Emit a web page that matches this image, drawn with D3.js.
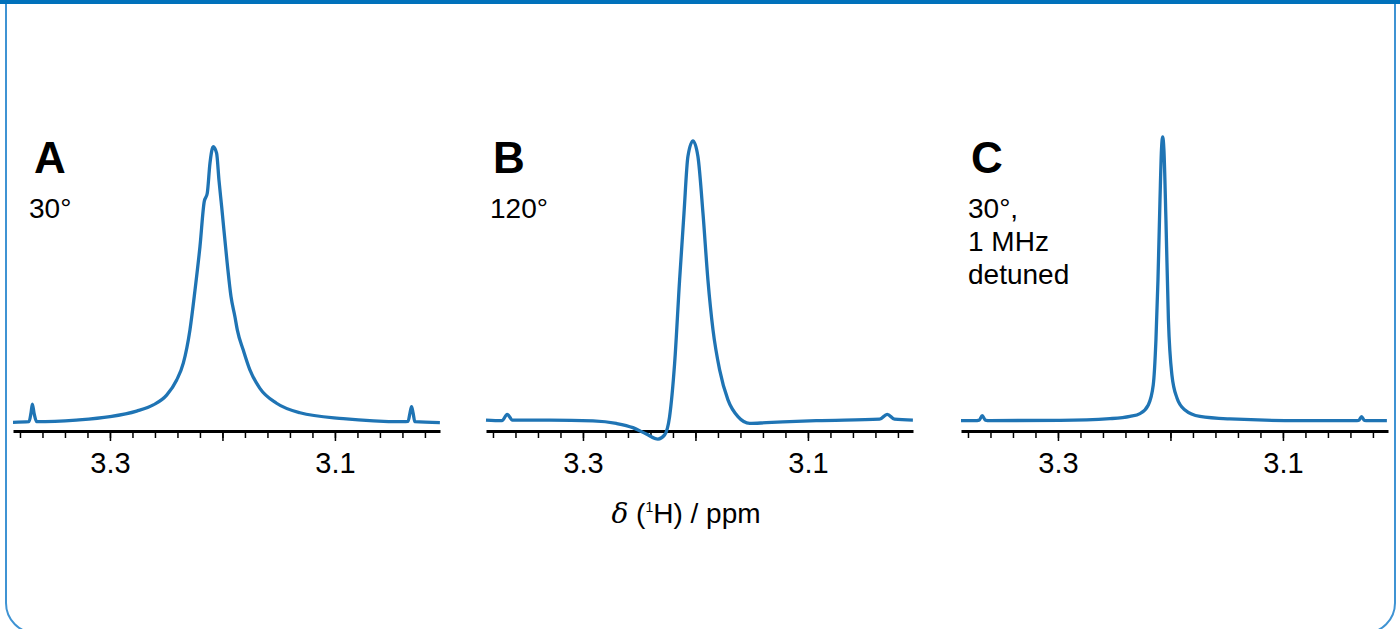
<!DOCTYPE html>
<html lang="en">
<head>
<meta charset="utf-8">
<title>1H spectra</title>
<script src="https://cdn.jsdelivr.net/npm/d3@7"></script>
<style>
  body { margin: 0; background: #fff; }
  text { font-family: "Liberation Sans", Arial, sans-serif; }
</style>
</head>
<body>
<script>
// values: chemical shift (ppm) and intensity (peak ~ 100)
var ppmA = [3.3862, 3.3720, 3.3702, 3.3690, 3.3675, 3.3652, 3.3300, 3.3000, 3.2763, 3.2615, 3.2496, 3.2407, 3.2348, 3.2289, 3.2244, 3.2200, 3.2162, 3.2135, 3.2111, 3.2082, 3.2052, 3.2031, 3.2007, 3.1958, 3.1924, 3.1889, 3.1868, 3.1815, 3.1756, 3.1667, 3.1519, 3.1311, 3.0926, 3.0393, 3.0350, 3.0333, 3.0319, 3.0305, 3.0290, 3.0067];
var intA = [-0.1, 0.1, 3.2, 6.4, 3.2, 0.1, 0.7, 1.9, 3.9, 6.1, 9.6, 15, 21, 32.9, 47.1, 62.6, 78.7, 81.7, 92.4, 98.3, 96, 86.4, 76.9, 56.8, 44.8, 37.6, 32.9, 25.7, 18.6, 12.0, 6.7, 3.3, 1.2, 0.1, 0.2, 3.2, 5.5, 3.2, 0.1, -0.2];

var ppmB = [3.3862, 3.3720, 3.3673, 3.3628, 3.3296, 3.2911, 3.2704, 3.2556, 3.2437, 3.2333, 3.2274, 3.2230, 3.2185, 3.2141, 3.2102, 3.2067, 3.2022, 3.1978, 3.1933, 3.1889, 3.1844, 3.1785, 3.1711, 3.1622, 3.1518, 3.1370, 3.0926, 3.0363, 3.0295, 3.0230, 3.0067];
var intB = [0.7, 0.5, 2.75, 0.7, 0.7, 0.4, -0.5, -2.0, -4.3, -6.1, -4.6, 1.9, 21, 50.7, 74.5, 94.8, 100.4, 94.8, 74.5, 50.7, 32.9, 18.6, 7.9, 1.9, -0.5, -0.25, 0.5, 1.0, 2.75, 1.0, 0.7];

var ppmC = [3.3862, 3.3738, 3.3700, 3.3673, 3.3646, 3.3604, 3.2982, 3.2538, 3.2360, 3.2271, 3.2197, 3.2153, 3.2129, 3.2111, 3.2093, 3.2080, 3.2069, 3.2058, 3.2040, 3.2018, 3.1987, 3.1942, 3.1871, 3.1738, 3.1471, 3.0849, 3.0360, 3.0326, 3.0301, 3.0276, 3.0244, 3.0076];
var intC = [0.5, 0.5, 0.7, 2.25, 0.7, 0.5, 0.6, 1.2, 2.0, 3.0, 6.1, 13.2, 29.3, 50.7, 79.3, 97.1, 101.8, 97.1, 72.1, 36.4, 16.8, 8.6, 4.3, 2.0, 1.1, 0.5, 0.5, 0.6, 1.9, 0.6, 0.5, 0.5];

var minorTicks = [3.38, 3.36, 3.34, 3.32, 3.30, 3.28, 3.26, 3.24, 3.22, 3.20, 3.18, 3.16, 3.14, 3.12, 3.10, 3.08, 3.06, 3.04, 3.02];
var majorTicks = [3.3, 3.2, 3.1];
var tickLabels = ["3.3", "", "3.1"];

var panelLetters = ["A", "B", "C"];
var panelNotes = [["30°"], ["120°"], ["30°,", "1 MHz", "detuned"]];
var xDomain = [3.3862, 3.0066];

var width = 1400;
var height = 629;
var lineColor = "#1f74b4";

var svg = d3.select("body")
            .append("svg")
            .attr("width", width)
            .attr("height", height);

// frame
svg.append("rect")
   .attr("x", 6).attr("y", -40)
   .attr("width", 1389).attr("height", 673)
   .attr("rx", 30)
   .attr("fill", "none")
   .attr("stroke", "#3f93d3")
   .attr("stroke-width", 2);
svg.append("rect")
   .attr("x", 0).attr("y", 0)
   .attr("width", width).attr("height", 4)
   .attr("fill", "#0071bb");

var y = d3.scaleLinear().domain([0, 100]).range([422, 142]);
var axisY = 431;

var panels = [
  {x0: 13, ppm: ppmA, val: intA, lx: 34, nx: 29},
  {x0: 486, ppm: ppmB, val: intB, lx: 493, nx: 490},
  {x0: 961, ppm: ppmC, val: intC, lx: 971, nx: 968}
];

panels.forEach(function (p, i) {
  var x = d3.scaleLinear().domain(xDomain).range([p.x0, p.x0 + 427]);

  var minor = svg.append("g")
     .attr("transform", "translate(0," + axisY + ")")
     .call(d3.axisBottom(x).tickValues(minorTicks).tickSize(7).tickSizeOuter(0).tickFormat(""));
  minor.select(".domain").attr("stroke-width", 3).attr("stroke", "#000");
  minor.selectAll(".tick line").attr("stroke-width", 1.5);

  var major = svg.append("g")
     .attr("transform", "translate(0," + axisY + ")")
     .call(d3.axisBottom(x).tickValues(majorTicks).tickSize(10).tickPadding(11)
       .tickFormat(function (d, j) { return tickLabels[j]; }));
  major.select(".domain").remove();
  major.selectAll(".tick line").attr("stroke-width", 1.5);
  major.selectAll(".tick text")
       .attr("font-size", 29)
       .attr("font-family", "Liberation Sans, Arial, sans-serif")
       .attr("fill", "#000");

  var pts = p.ppm.map(function (d, j) { return [d, p.val[j]]; });
  var line = d3.line()
               .x(function (d) { return x(d[0]); })
               .y(function (d) { return y(d[1]); })
               .curve(d3.curveMonotoneX);
  svg.append("path")
     .datum(pts)
     .attr("d", line)
     .attr("fill", "none")
     .attr("stroke", lineColor)
     .attr("stroke-width", 3.3)
     .attr("stroke-linejoin", "round");

  svg.append("text")
     .attr("x", p.lx).attr("y", 173)
     .attr("font-size", 44)
     .attr("font-weight", "bold")
     .attr("fill", "#000")
     .text(panelLetters[i]);

  panelNotes[i].forEach(function (t, k) {
    svg.append("text")
       .attr("x", p.nx).attr("y", 218 + k * 33)
       .attr("font-size", 28)
       .attr("fill", "#000")
       .text(t);
  });
});

// x axis title
var title = svg.append("text")
   .attr("x", 686).attr("y", 523)
   .attr("text-anchor", "middle")
   .attr("font-size", 28)
   .attr("fill", "#000");
title.append("tspan").attr("font-style", "italic").attr("font-family", "DejaVu Serif, serif").text("δ");
title.append("tspan").text(" (");
title.append("tspan").attr("font-size", 14).attr("dy", -11).text("1");
title.append("tspan").attr("dy", 11).text("H) / ppm");
</script>
</body>
</html>
